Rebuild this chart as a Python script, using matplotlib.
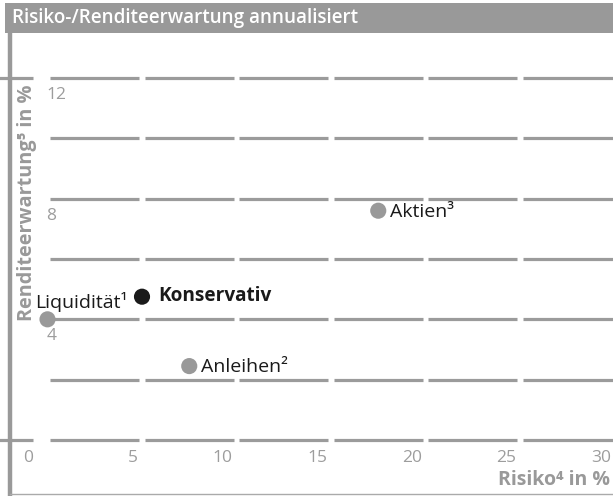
import matplotlib.pyplot as plt
from matplotlib.lines import Line2D
from matplotlib.patches import Rectangle

plt.rcParams['font.family'] = ['Open Sans', 'DejaVu Sans']

# data
assets = ['Liquidität¹', 'Konservativ', 'Anleihen²', 'Aktien³']
risk = [0.0, 5.0, 7.5, 17.5]
ret = [4.0, 4.75, 2.45, 7.6]
colors = ['#999999', '#1a1a1a', '#999999', '#999999']

x_ticks = [0, 5, 10, 15, 20, 25, 30]
y_grid = [0, 2, 4, 6, 8, 10, 12]
y_labels = [4, 8, 12]

GRAY = '#9b9b9b'
W, H = 613, 496

fig = plt.figure(figsize=(W / 100, H / 100), dpi=100)
ax = fig.add_axes([0, 0, 1, 1])
ax.axis('off')

# pixel mapping: x=0 at 47.5px, 18.9px/unit; y=0 at 440px from top, 30.17px/unit
ax.set_xlim(-47.5 / 18.9, (W - 47.5) / 18.9)
ax.set_ylim(-(H - 440) / 30.17, 440 / 30.17)

# broken grid lines
gap = 0.14
for yv in y_grid:
    for a, b in zip(x_ticks[:-1], x_ticks[1:]):
        end = b - gap if b < x_ticks[-1] else b + 1
        ax.plot([a + gap, end], [yv, yv], color=GRAY, lw=2.3, solid_capstyle='butt')
    if yv in (0, 12):
        ax.plot([-3, -0.78], [yv, yv], color=GRAY, lw=2.3, solid_capstyle='butt')

# tick labels
for yv in y_labels:
    ax.text(-0.05, yv - 0.3, str(yv), color='#9d9d9d', fontsize=12.5, ha='left', va='top')
for i, xv in enumerate(x_ticks):
    xpos = -0.78 if i == 0 else xv - 0.2
    ax.text(xpos, -0.6, str(xv), color='#9d9d9d', fontsize=12.5, ha='right', va='center')

# points
ax.scatter(risk, ret, s=135, c=colors, zorder=5, linewidths=0)

ax.text(4.25, 4.57, assets[0], fontsize=14, color='#1a1a1a', ha='right', va='center')
ax.text(5.85, 4.77, assets[1], fontsize=13.7, color='#1a1a1a', ha='left', va='center',
        fontweight='bold')
ax.text(8.1, 2.42, assets[2], fontsize=14, color='#1a1a1a', ha='left', va='center')
ax.text(18.1, 7.56, assets[3], fontsize=14, color='#1a1a1a', ha='left', va='center')

# axis titles
fig.text(610 / W, 1 - 480 / H, 'Risiko⁴ in %', fontsize=14, color='#999999',
         fontweight='bold', ha='right', va='center')
fig.text(27 / W, 1 - 203 / H, 'Renditeerwartung⁵ in %', fontsize=14.3, color='#999999',
         fontweight='bold', rotation=90, ha='center', va='center')

# header and frame
fig.add_artist(Rectangle((5 / W, 1 - 33 / H), 1, 30 / H, transform=fig.transFigure,
                         color='#999999', lw=0))
fig.text(12 / W, 1 - 18 / H, 'Risiko-/Renditeerwartung annualisiert', fontsize=13.6,
         color='white', fontweight='semibold', ha='left', va='center')
fig.add_artist(Line2D([9.5 / W, 9.5 / W], [1 - 494 / H, 1 - 33 / H],
                      transform=fig.transFigure, color='#999999', lw=3.2))
fig.add_artist(Line2D([9.5 / W, 1], [1 - 494 / H, 1 - 494 / H],
                      transform=fig.transFigure, color='#aaaaaa', lw=1))

fig.savefig('out.png', dpi=100)
